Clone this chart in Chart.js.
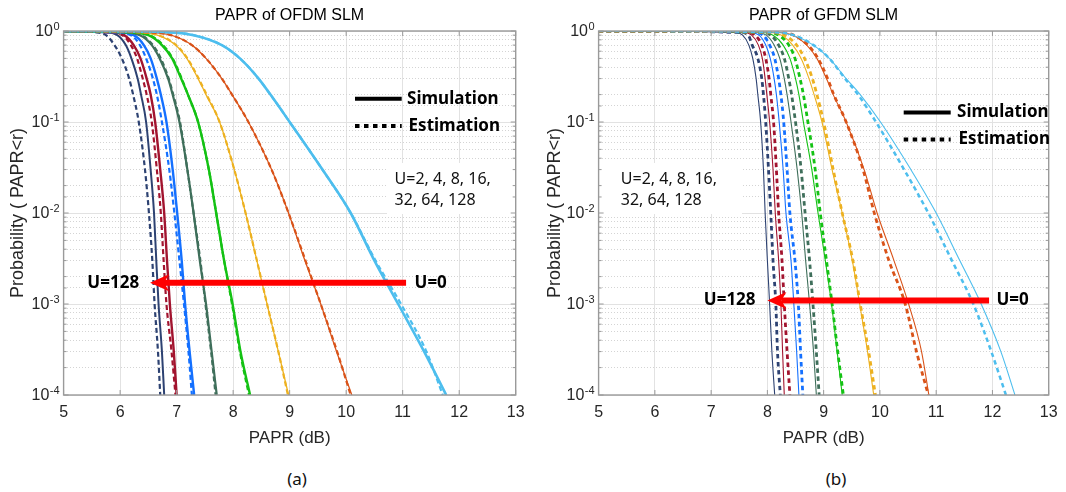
<!DOCTYPE html>
<html>
<head>
<meta charset="utf-8">
<title>PAPR of SLM</title>
<script src="https://cdn.jsdelivr.net/npm/chart.js@4.4.1/dist/chart.umd.min.js"></script>
<style>
    body { margin: 0; background: #fff; width: 1066px; height: 492px; overflow: hidden; position: relative; }
    .panel { position: absolute; top: 0; width: 533px; height: 460px; }
    #panel-a { left: 0; }
    #panel-b { left: 533px; }
    .caption { position: absolute; top: 467px; width: 60px; text-align: center; font: 17px "Noto Sans", sans-serif; color: #111; }
</style>
</head>
<body>
<div class="panel" id="panel-a"><canvas id="chart-ofdm" width="533" height="460"></canvas></div>
<div class="panel" id="panel-b"><canvas id="chart-gfdm" width="533" height="460"></canvas></div>
<div class="caption" style="left: 267px;">(a)</div>
<div class="caption" style="left: 806px;">(b)</div>

<script>
// x range of both plots (dB)
const xMin = 5;
const xMax = 13;

// CCDF levels at which every curve is sampled
const probLevels = [0.97, 0.9, 0.7, 0.5, 0.3, 0.2, 0.1, 0.03, 0.01, 0.003, 0.001, 0.0003, 0.0001];

// number of candidate phase sequences, one curve each
const uValues = [0, 2, 4, 8, 16, 32, 64, 128];

// decades shown on the probability axis
const decadeExps = [0, -1, -2, -3, -4];

// OFDM SLM: PAPR (dB) reached at each probLevels entry, rows follow uValues
const ofdmSim = [
    [6.8, 7.3, 7.8, 8.12, 8.45, 8.66, 9.0, 9.58, 10.08, 10.5, 10.92, 11.38, 11.77],
    [6.4, 6.9, 7.27, 7.52, 7.8, 7.98, 8.27, 8.68, 8.98, 9.27, 9.55, 9.83, 10.1],
    [6.25, 6.66, 6.98, 7.18, 7.38, 7.52, 7.76, 8.02, 8.22, 8.42, 8.6, 8.8, 8.98],
    [6.1, 6.5, 6.74, 6.92, 7.08, 7.2, 7.38, 7.57, 7.7, 7.84, 7.99, 8.13, 8.3],
    [6.0, 6.35, 6.56, 6.7, 6.85, 6.93, 7.05, 7.19, 7.3, 7.41, 7.52, 7.62, 7.71],
    [5.9, 6.24, 6.42, 6.54, 6.65, 6.72, 6.82, 6.93, 7.01, 7.09, 7.15, 7.23, 7.31],
    [5.8, 6.07, 6.24, 6.36, 6.47, 6.54, 6.62, 6.71, 6.78, 6.83, 6.88, 6.95, 7.0],
    [5.7, 5.95, 6.1, 6.2, 6.31, 6.37, 6.46, 6.54, 6.6, 6.64, 6.68, 6.74, 6.78]
];
const ofdmEst = [
    [6.8, 7.3, 7.8, 8.12, 8.45, 8.66, 9.0, 9.58, 10.08, 10.52, 10.97, 11.42, 11.71],
    [6.4, 6.9, 7.27, 7.52, 7.8, 7.98, 8.27, 8.68, 8.98, 9.28, 9.55, 9.84, 10.08],
    [6.25, 6.68, 6.99, 7.19, 7.39, 7.53, 7.76, 8.02, 8.22, 8.42, 8.6, 8.8, 8.97],
    [6.1, 6.52, 6.76, 6.93, 7.09, 7.2, 7.38, 7.57, 7.7, 7.84, 7.98, 8.12, 8.28],
    [6.0, 6.37, 6.58, 6.72, 6.86, 6.94, 7.06, 7.19, 7.3, 7.42, 7.51, 7.61, 7.69],
    [5.85, 6.19, 6.35, 6.46, 6.58, 6.65, 6.74, 6.87, 6.96, 7.05, 7.13, 7.21, 7.27],
    [5.75, 6.04, 6.19, 6.3, 6.4, 6.47, 6.56, 6.65, 6.72, 6.77, 6.82, 6.91, 6.98],
    [5.55, 5.75, 5.9, 6.03, 6.16, 6.23, 6.33, 6.44, 6.51, 6.57, 6.61, 6.67, 6.71]
];

// GFDM SLM: same layout as above
const gfdmSim = [
    [8.1, 8.45, 8.82, 9.1, 9.4, 9.65, 10.01, 10.55, 11.0, 11.42, 11.8, 12.15, 12.4],
    [8.1, 8.45, 8.7, 8.88, 9.05, 9.17, 9.4, 9.72, 9.95, 10.25, 10.51, 10.74, 10.87],
    [7.95, 8.25, 8.45, 8.6, 8.74, 8.83, 8.97, 9.15, 9.33, 9.51, 9.64, 9.78, 9.89],
    [7.85, 8.1, 8.28, 8.4, 8.5, 8.56, 8.64, 8.79, 8.9, 9.03, 9.14, 9.24, 9.33],
    [7.75, 7.98, 8.12, 8.22, 8.3, 8.35, 8.42, 8.53, 8.61, 8.68, 8.75, 8.82, 8.87],
    [7.65, 7.85, 7.97, 8.05, 8.12, 8.16, 8.21, 8.28, 8.33, 8.42, 8.47, 8.52, 8.56],
    [7.55, 7.72, 7.84, 7.91, 7.96, 7.99, 8.04, 8.1, 8.14, 8.2, 8.24, 8.27, 8.3],
    [7.4, 7.56, 7.67, 7.74, 7.8, 7.83, 7.88, 7.93, 7.96, 8.0, 8.04, 8.08, 8.13]
];
const gfdmEst = [
    [8.1, 8.47, 8.82, 9.1, 9.38, 9.61, 9.93, 10.43, 10.86, 11.28, 11.66, 11.98, 12.24],
    [8.1, 8.47, 8.72, 8.9, 9.07, 9.18, 9.4, 9.7, 9.9, 10.16, 10.45, 10.65, 10.86],
    [8.0, 8.3, 8.52, 8.66, 8.8, 8.88, 9.0, 9.17, 9.33, 9.52, 9.65, 9.8, 9.92],
    [7.95, 8.2, 8.38, 8.49, 8.58, 8.64, 8.72, 8.85, 8.94, 9.05, 9.15, 9.25, 9.35],
    [7.82, 8.06, 8.2, 8.3, 8.38, 8.43, 8.5, 8.6, 8.67, 8.75, 8.81, 8.87, 8.92],
    [7.7, 7.92, 8.04, 8.13, 8.2, 8.24, 8.29, 8.35, 8.4, 8.49, 8.55, 8.59, 8.63],
    [7.6, 7.78, 7.9, 7.97, 8.03, 8.06, 8.11, 8.16, 8.2, 8.26, 8.3, 8.35, 8.4],
    [7.5, 7.66, 7.73, 7.83, 7.9, 7.93, 7.97, 8.02, 8.06, 8.1, 8.15, 8.18, 8.23]
];

// one colour per U value
const curveColors = ['#4DBEEE', '#D95319', '#EDB120', '#14C214', '#3F6F5B', '#1470FF', '#A2142F', '#2D4272'];

const axisFont = 'Liberation Sans, Arial, sans-serif';
const noteFont = '"Noto Sans", sans-serif';
const gridMajor = '#e2e2e2';
const gridMinor = '#d4d4d4';
const frameColor = '#9a9a9a';

function isDecade(v) {
    const e = Math.log10(v);
    return Math.abs(e - Math.round(e)) < 1e-6;
}

/**
 * Turn one row of PAPR values into line points
 */
function curvePoints(row) {
    // every curve sits at probability 1 until it starts to fall
    const pts = [{ x: xMin, y: 1 }];
    row.forEach((papr, k) => pts.push({ x: papr, y: probLevels[k] }));
    return pts;
}

/**
 * Build the dashed (estimation) and solid (simulation) datasets
 */
function buildDatasets(simRows, estRows, style) {
    const sets = [];
    uValues.forEach((u, i) => {
        sets.push({
            label: 'U=' + u + ' estimation',
            data: curvePoints(estRows[i]),
            borderColor: curveColors[i],
            borderWidth: style.estWidth[i],
            borderDash: style.estDash
        });
    });
    uValues.forEach((u, i) => {
        sets.push({
            label: 'U=' + u + ' simulation',
            data: curvePoints(simRows[i]),
            borderColor: curveColors[i],
            borderWidth: style.simWidth[i]
        });
    });
    return sets;
}

/**
 * Frame, tick labels, legend, U list and arrow drawn on top of the scales
 */
const paprNotes = {
    id: 'paprNotes',
    beforeDatasetsDraw(chart, args, opts) {
        // white patch behind the U list hides the grid there
        const { ctx, chartArea: a } = chart;
        const b = opts.listBox;
        ctx.save();
        ctx.fillStyle = '#ffffff';
        ctx.fillRect(a.left + b.x, a.top + b.y, b.w, b.h);
        ctx.restore();
    },
    afterDatasetsDraw(chart, args, opts) {
        const { ctx, chartArea: a, scales: { x, y } } = chart;
        ctx.save();

        // axes box with inward ticks
        ctx.strokeStyle = frameColor;
        ctx.lineWidth = 1.4;
        ctx.strokeRect(a.left, a.top, a.right - a.left, a.bottom - a.top);
        ctx.lineWidth = 1;
        ctx.beginPath();
        y.ticks.forEach(t => {
            const py = y.getPixelForValue(t.value);
            const len = isDecade(t.value) ? 5 : 3;
            ctx.moveTo(a.left, py); ctx.lineTo(a.left + len, py);
            ctx.moveTo(a.right, py); ctx.lineTo(a.right - len, py);
        });
        x.ticks.forEach(t => {
            const px = x.getPixelForValue(t.value);
            ctx.moveTo(px, a.bottom); ctx.lineTo(px, a.bottom - 5);
            ctx.moveTo(px, a.top); ctx.lineTo(px, a.top + 5);
        });
        ctx.stroke();

        // decade labels 10^n
        ctx.fillStyle = '#262626';
        ctx.textAlign = 'right';
        decadeExps.forEach(e => {
            const py = y.getPixelForValue(Math.pow(10, e));
            const exp = String(e);
            ctx.font = '11px ' + axisFont;
            const ew = ctx.measureText(exp).width;
            ctx.textBaseline = 'alphabetic';
            ctx.fillText(exp, a.left - 4, py - 1);
            ctx.font = '16px ' + axisFont;
            ctx.textBaseline = 'middle';
            ctx.fillText('10', a.left - 4.5 - ew, py + 1);
        });

        // legend: line style meaning
        const lg = opts.legend;
        ctx.strokeStyle = '#000';
        ctx.lineWidth = 4;
        ctx.beginPath();
        ctx.moveTo(a.left + lg.x0, a.top + lg.y1);
        ctx.lineTo(a.left + lg.x1, a.top + lg.y1);
        ctx.stroke();
        ctx.setLineDash([4.5, 4.5]);
        ctx.beginPath();
        ctx.moveTo(a.left + lg.x0, a.top + lg.y2);
        ctx.lineTo(a.left + lg.x1, a.top + lg.y2);
        ctx.stroke();
        ctx.setLineDash([]);
        ctx.fillStyle = '#000';
        ctx.textAlign = 'left';
        ctx.textBaseline = 'middle';
        ctx.font = 'bold 17px ' + noteFont;
        ctx.fillText('Simulation', a.left + lg.textX, a.top + lg.y1);
        ctx.fillText('Estimation', a.left + lg.textX + 1.5, a.top + lg.y2);

        // list of U values
        const ls = opts.list;
        ctx.font = '16px ' + noteFont;
        ctx.fillStyle = '#111';
        ctx.fillText('U=2, 4, 8, 16,', a.left + ls.x, a.top + ls.y1);
        ctx.fillText('32, 64, 128', a.left + ls.x, a.top + ls.y2);

        // red arrow from U=0 towards U=128
        const ar = opts.arrow;
        const tail = x.getPixelForValue(ar.from);
        const tip = x.getPixelForValue(ar.to);
        const py = y.getPixelForValue(ar.prob);
        ctx.strokeStyle = '#ff0000';
        ctx.fillStyle = '#ff0000';
        ctx.lineWidth = 6;
        ctx.beginPath();
        ctx.moveTo(tail, py);
        ctx.lineTo(tip + 14, py);
        ctx.stroke();
        ctx.beginPath();
        ctx.moveTo(tip, py);
        ctx.lineTo(tip + 19, py - 8.5);
        ctx.lineTo(tip + 14, py);
        ctx.lineTo(tip + 19, py + 8.5);
        ctx.closePath();
        ctx.fill();

        ctx.fillStyle = '#000';
        ctx.font = 'bold 17px ' + noteFont;
        ctx.textAlign = 'right';
        ctx.fillText('U=128', x.getPixelForValue(ar.leftLabel), py);
        ctx.textAlign = 'left';
        ctx.fillText('U=0', x.getPixelForValue(ar.rightLabel), py);

        ctx.restore();
    }
};

/**
 * Create one PAPR panel
 */
function makeChart(canvasId, titleText, simRows, estRows, style, notes, pad) {
    const ctx = document.getElementById(canvasId);
    if (!ctx) return;

    new Chart(ctx, {
        type: 'line',
        data: { datasets: buildDatasets(simRows, estRows, style) },
        options: {
            responsive: false,
            animation: false,
            events: [],
            layout: { padding: { left: 0, right: pad.right, top: 0, bottom: 0 } },
            elements: {
                point: { radius: 0 },
                line: { cubicInterpolationMode: 'monotone', borderCapStyle: 'butt', borderJoinStyle: 'round' }
            },
            plugins: {
                legend: { display: false },
                tooltip: { enabled: false },
                title: {
                    display: true,
                    text: titleText,
                    fullSize: false,
                    color: '#000',
                    font: { family: axisFont, size: 16, weight: 'normal' },
                    padding: { top: 5.9, bottom: 5.9 }
                },
                paprNotes: notes
            },
            scales: {
                x: {
                    type: 'linear',
                    min: xMin,
                    max: xMax,
                    ticks: {
                        stepSize: 1,
                        color: '#262626',
                        padding: 8.4,
                        font: { family: axisFont, size: 16 }
                    },
                    grid: { color: gridMajor, drawTicks: false },
                    border: { display: false },
                    title: {
                        display: true,
                        text: 'PAPR (dB)',
                        color: '#262626',
                        font: { family: axisFont, size: 17 },
                        padding: { top: 0, bottom: 11.8 }
                    },
                    afterFit: function(scale) { scale.height = 460 - 395; }
                },
                y: {
                    type: 'logarithmic',
                    min: 1e-4,
                    max: 1,
                    ticks: { display: false, autoSkip: false },
                    grid: {
                        drawTicks: false,
                        color: c => (c.tick && isDecade(c.tick.value)) ? gridMajor : gridMinor
                    },
                    border: {
                        display: false,
                        dash: c => (c.tick && isDecade(c.tick.value)) ? [] : [1, 2]
                    },
                    title: {
                        display: true,
                        text: 'Probability ( PAPR<r)',
                        color: '#262626',
                        font: { family: axisFont, size: 18 },
                        padding: { top: pad.yTitle, bottom: 0 }
                    },
                    afterFit: function(scale) { scale.width = pad.left; }
                }
            }
        },
        plugins: [paprNotes]
    });
}

makeChart('chart-ofdm', 'PAPR of OFDM SLM', ofdmSim, ofdmEst,
    {
        simWidth: [2.6, 1.3, 1.3, 2.4, 2.2, 2.4, 2.4, 2.0],
        estWidth: [2.2, 2.2, 2.2, 2.2, 2.2, 2.2, 2.2, 2.2],
        estDash: [5, 3]
    },
    {
        legend: { x0: 291.4, x1: 338.1, textX: 343.5, y1: 67.7, y2: 95 },
        list: { x: 331, y1: 148, y2: 169 },
        listBox: { x: 323.4, y: 132, w: 134.4, h: 51 },
        arrow: { from: 11.06, to: 6.53, prob: 1.71e-3, leftLabel: 6.336, rightLabel: 11.21 }
    },
    { left: 63.6, right: 11.6, yTitle: 7.0 }
);

makeChart('chart-gfdm', 'PAPR of GFDM SLM', gfdmSim, gfdmEst,
    {
        simWidth: [1.1, 1.1, 1.1, 1.1, 1.1, 1.1, 1.1, 1.1],
        estWidth: [2.5, 2.8, 2.8, 2.8, 2.8, 2.8, 2.8, 2.8],
        estDash: [4.5, 3.5]
    },
    {
        legend: { x0: 305.1, x1: 352.1, textX: 358.5, y1: 81.5, y2: 108.5 },
        list: { x: 22.2, y1: 148, y2: 169 },
        listBox: { x: 0, y: 132, w: 143.4, h: 51 },
        arrow: { from: 11.94, to: 8.0, prob: 1.09e-3, leftLabel: 7.79, rightLabel: 12.07 }
    },
    { left: 65.6, right: 10.2, yTitle: 11.2 }
);
</script>
</body>
</html>
